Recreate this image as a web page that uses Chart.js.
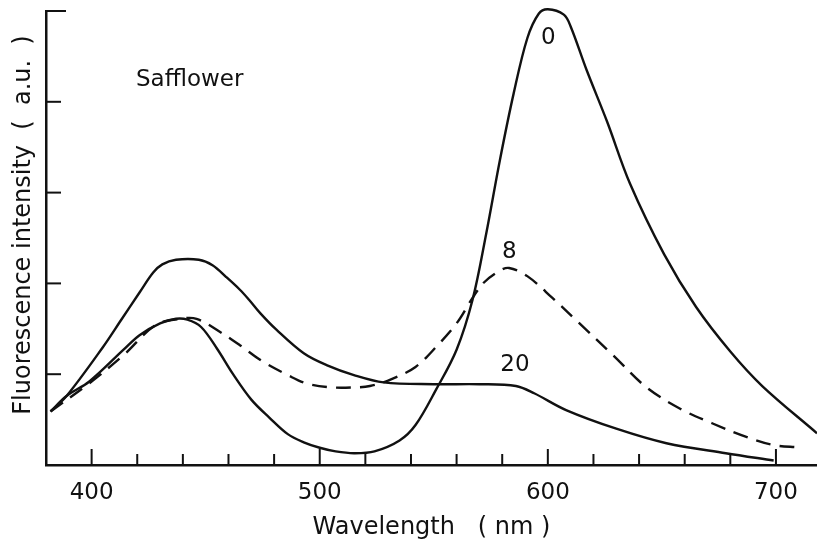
<!DOCTYPE html>
<html>
<head>
<meta charset="utf-8">
<script src="https://cdn.jsdelivr.net/npm/chart.js@4"></script>
<style>
  html, body { margin: 0; padding: 0; background: #fff; }
  #wrap { width: 817px; height: 543px; }
</style>
</head>
<body>
<div id="wrap"><canvas id="chart"></canvas></div>
<script>
// curve "0" (solid, big red peak)
const wl0 = [382, 389, 399, 414, 421, 430, 437, 442, 448, 455, 462, 470, 478, 486, 493, 500, 507, 515, 524, 535, 542, 551, 560, 567, 573, 579, 585, 591, 596, 600, 607, 610, 617, 626, 636, 651, 665, 680, 694, 718];
const val0 = [0.59, 0.76, 0.92, 1.27, 1.43, 1.56, 1.61, 1.60, 1.52, 1.28, 1.00, 0.72, 0.52, 0.34, 0.25, 0.19, 0.15, 0.13, 0.15, 0.27, 0.44, 0.83, 1.27, 1.82, 2.55, 3.36, 4.09, 4.70, 4.97, 5.02, 4.96, 4.83, 4.35, 3.78, 3.10, 2.32, 1.74, 1.25, 0.87, 0.35];

// curve "8" (dashed)
const wl8 = [382, 399, 414, 428, 439, 446, 456, 465, 475, 486, 494, 505, 516, 522, 531, 542, 551, 560, 567, 572, 579, 583, 591, 602, 613, 629, 643, 658, 672, 687, 699, 710];
const val8 = [0.59, 0.90, 1.21, 1.54, 1.61, 1.61, 1.47, 1.32, 1.14, 0.99, 0.90, 0.855, 0.855, 0.87, 0.94, 1.08, 1.30, 1.56, 1.84, 2.01, 2.14, 2.17, 2.08, 1.84, 1.58, 1.20, 0.86, 0.62, 0.46, 0.31, 0.22, 0.195];

// curve "20" (solid, plateau)
const wl20 = [382, 389, 405, 413, 421, 427, 431, 437, 447, 453, 459, 465, 469, 474, 481, 493, 503, 515, 528, 550, 570, 586, 594, 608, 630, 652, 678, 699];
const val20 = [0.59, 0.76, 1.30, 1.60, 1.90, 2.12, 2.21, 2.26, 2.26, 2.20, 2.07, 1.93, 1.82, 1.67, 1.49, 1.23, 1.10, 0.99, 0.91, 0.89, 0.89, 0.87, 0.79, 0.605, 0.40, 0.24, 0.13, 0.05];

const xTickLabels = [400, 500, 600, 700];
const xMinorTicks = [400, 420, 440, 460, 480, 500, 520, 540, 560, 580, 600, 620, 640, 660, 680, 700];
const yTickValues = [1, 2, 3, 4, 5];

const FONT = 'DejaVu Sans';
const INK = '#111';

function pts(xs, ys) {
    return xs.map((x, i) => ({ x: x, y: ys[i] }));
}

// ticks drawn on the inside of the axes, as in the original figure
const innerTicks = {
    id: 'innerTicks',
    afterDatasetsDraw(chart) {
        const { ctx, chartArea, scales: { x, y } } = chart;
        ctx.save();
        ctx.strokeStyle = INK;
        ctx.lineWidth = 2;
        xMinorTicks.forEach(v => {
            const px = x.getPixelForValue(v);
            const len = xTickLabels.includes(v) ? 16 : 11;
            ctx.beginPath();
            ctx.moveTo(px, chartArea.bottom);
            ctx.lineTo(px, chartArea.bottom - len);
            ctx.stroke();
        });
        yTickValues.forEach(v => {
            const py = y.getPixelForValue(v);
            const len = v === 5 ? 20 : 15;
            ctx.beginPath();
            ctx.moveTo(chartArea.left, py);
            ctx.lineTo(chartArea.left + len, py);
            ctx.stroke();
        });
        ctx.restore();
    }
};

// curve names, sample name and the y title (sits a bit above centre in the original)
const curveText = {
    id: 'curveText',
    afterDatasetsDraw(chart, args, opts) {
        const { ctx, chartArea, scales: { x, y } } = chart;
        ctx.save();
        ctx.fillStyle = INK;
        ctx.textAlign = 'center';
        ctx.textBaseline = 'middle';
        ctx.font = '23px "' + FONT + '"';
        opts.items.forEach(it => {
            ctx.fillText(it.text, x.getPixelForValue(it.x), y.getPixelForValue(it.y));
        });
        ctx.font = '24px "' + FONT + '"';
        ctx.translate(24, (chartArea.top + chartArea.bottom) / 2 - 13);
        ctx.rotate(-Math.PI / 2);
        ctx.fillText(opts.yTitle, 0, 0);
        ctx.restore();
    }
};

const lineStyle = {
    borderColor: INK,
    borderWidth: 2.4,
    pointRadius: 0,
    fill: false,
    tension: 0.35,
    clip: false
};

new Chart(document.getElementById('chart'), {
    type: 'line',
    data: {
        datasets: [
            Object.assign({ label: '0', data: pts(wl0, val0) }, lineStyle),
            Object.assign({ label: '8', data: pts(wl8, val8), borderDash: [15, 9] }, lineStyle),
            Object.assign({ label: '20', data: pts(wl20, val20) }, lineStyle)
        ]
    },
    options: {
        responsive: true,
        maintainAspectRatio: false,
        animation: false,
        layout: { padding: { top: 11, right: 0, bottom: 0, left: 0 } },
        plugins: {
            legend: { display: false },
            tooltip: { enabled: false },
            curveText: {
                yTitle: 'Fluorescence intensity  (  a.u.  )',
                items: [
                    { text: 'Safflower', x: 443, y: 4.24 },
                    { text: '0', x: 600.2, y: 4.70 },
                    { text: '8', x: 583.1, y: 2.35 },
                    { text: '20', x: 585.6, y: 1.10 }
                ]
            }
        },
        scales: {
            x: {
                type: 'linear',
                min: 380,
                max: 718,
                grid: { display: false, drawTicks: false },
                border: { display: true, color: INK, width: 2.5 },
                afterBuildTicks: s => { s.ticks = xTickLabels.map(v => ({ value: v })); },
                ticks: { color: INK, font: { family: FONT, size: 23 }, padding: 14, maxRotation: 0, autoSkip: false },
                title: {
                    display: true,
                    text: 'Wavelength   ( nm )',
                    color: INK,
                    font: { family: FONT, size: 24 },
                    padding: { top: 0, bottom: 1 }
                },
                afterFit: s => { s.height = 78; }
            },
            y: {
                min: 0,
                max: 5,
                grid: { display: false, drawTicks: false },
                border: { display: true, color: INK, width: 2.5 },
                ticks: { display: false },
                afterFit: s => { s.width = 46; }
            }
        }
    },
    plugins: [innerTicks, curveText]
});
</script>
</body>
</html>
